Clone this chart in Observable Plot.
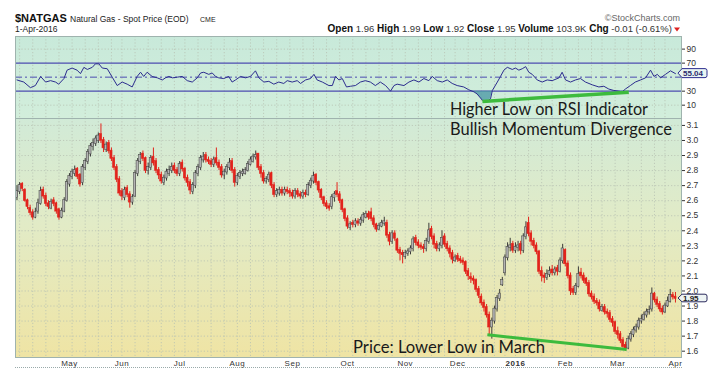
<!DOCTYPE html>
<html><head><meta charset="utf-8">
<script src="https://cdn.jsdelivr.net/npm/d3@7"></script>
<script src="https://cdn.jsdelivr.net/npm/@observablehq/plot@0.6"></script>
<style>
body{margin:0;background:#fff;}
#wrap{position:relative;width:709px;height:381px;overflow:hidden;}
#wrap > *{position:absolute;}
</style></head><body><div id="wrap"></div>
<script>
// ---- data: daily candles, index 0 = 2 Apr 2015 ... 251 = 1 Apr 2016 ----
const open = [2.62,2.66,2.71,2.67,2.60,2.55,2.52,2.49,2.53,2.58,
2.67,2.63,2.58,2.55,2.60,2.58,2.54,2.49,2.53,2.60,
2.71,2.76,2.78,2.81,2.77,2.72,2.82,2.86,2.91,2.96,
2.98,3.00,3.04,3.00,2.94,2.98,2.93,2.88,2.82,2.74,
2.66,2.62,2.68,2.64,2.59,2.63,2.78,2.86,2.91,2.88,
2.80,2.82,2.89,2.86,2.80,2.77,2.72,2.75,2.78,2.80,
2.83,2.80,2.78,2.85,2.81,2.75,2.72,2.66,2.70,2.78,
2.82,2.87,2.90,2.87,2.86,2.84,2.88,2.85,2.82,2.77,
2.79,2.82,2.86,2.80,2.72,2.76,2.78,2.78,2.80,2.84,
2.86,2.89,2.91,2.82,2.78,2.73,2.74,2.78,2.70,2.64,
2.65,2.67,2.65,2.67,2.66,2.65,2.63,2.66,2.64,2.63,
2.65,2.64,2.70,2.73,2.77,2.72,2.67,2.62,2.58,2.56,
2.56,2.62,2.66,2.64,2.60,2.54,2.48,2.42,2.45,2.44,
2.46,2.45,2.47,2.49,2.51,2.52,2.48,2.44,2.41,2.43,
2.45,2.45,2.37,2.33,2.38,2.34,2.27,2.25,2.23,2.25,
2.26,2.28,2.35,2.32,2.30,2.29,2.28,2.33,2.41,2.36,
2.31,2.28,2.30,2.36,2.31,2.28,2.25,2.20,2.23,2.21,
2.20,2.19,2.13,2.09,2.08,2.07,2.01,1.96,1.92,1.89,
1.84,1.76,1.80,1.88,1.95,2.04,2.12,2.22,2.29,2.31,
2.27,2.29,2.31,2.27,2.36,2.45,2.38,2.33,2.30,2.26,
2.13,2.10,2.09,2.11,2.14,2.12,2.15,2.13,2.20,2.27,
2.18,2.10,2.01,1.99,2.03,2.12,2.10,2.08,2.05,1.98,
1.96,1.93,1.92,1.87,1.89,1.86,1.85,1.81,1.79,1.73,
1.71,1.67,1.64,1.62,1.68,1.71,1.74,1.76,1.80,1.81,
1.84,1.86,1.88,1.98,1.94,1.91,1.88,1.86,1.90,1.93,1.97,1.96];
const high = [2.70,2.72,2.72,2.68,2.61,2.57,2.54,2.55,2.61,2.69,
2.69,2.65,2.60,2.61,2.62,2.59,2.55,2.55,2.62,2.74,
2.78,2.81,2.83,2.82,2.78,2.84,2.88,2.94,2.98,3.01,
3.03,3.05,3.11,3.02,2.99,3.00,2.95,2.90,2.84,2.76,
2.68,2.69,2.70,2.66,2.64,2.80,2.88,2.92,2.93,2.89,
2.85,2.90,2.95,2.88,2.82,2.79,2.77,2.81,2.83,2.85,
2.85,2.82,2.86,2.87,2.82,2.77,2.74,2.72,2.80,2.84,
2.90,2.92,2.92,2.89,2.88,2.89,2.95,2.87,2.84,2.81,
2.84,2.88,2.88,2.82,2.78,2.80,2.81,2.82,2.86,2.89,
2.91,2.93,2.91,2.84,2.80,2.76,2.79,2.79,2.72,2.68,
2.69,2.69,2.69,2.69,2.68,2.67,2.68,2.68,2.66,2.67,
2.67,2.72,2.75,2.79,2.78,2.73,2.68,2.63,2.60,2.58,
2.64,2.66,2.72,2.66,2.61,2.55,2.50,2.46,2.47,2.48,
2.48,2.49,2.52,2.53,2.53,2.55,2.50,2.45,2.45,2.47,
2.49,2.47,2.39,2.40,2.40,2.35,2.29,2.27,2.27,2.28,
2.30,2.36,2.37,2.34,2.32,2.31,2.35,2.45,2.43,2.38,
2.33,2.32,2.40,2.38,2.33,2.30,2.27,2.24,2.25,2.23,
2.22,2.20,2.15,2.12,2.10,2.08,2.03,1.98,1.94,1.91,
1.86,1.82,1.90,1.97,2.01,2.09,2.24,2.32,2.35,2.33,
2.32,2.33,2.33,2.38,2.46,2.49,2.40,2.35,2.32,2.27,
2.16,2.12,2.14,2.16,2.17,2.16,2.17,2.22,2.31,2.28,
2.20,2.12,2.03,2.05,2.16,2.15,2.12,2.09,2.07,2.00,
1.98,1.95,1.94,1.91,1.91,1.88,1.87,1.83,1.80,1.76,
1.73,1.69,1.66,1.70,1.73,1.76,1.78,1.82,1.84,1.86,
1.88,1.90,2.02,1.99,1.96,1.93,1.90,1.92,1.96,2.01,1.99,1.99];
const low = [2.60,2.64,2.66,2.59,2.54,2.50,2.47,2.48,2.51,2.57,
2.61,2.56,2.54,2.54,2.56,2.51,2.47,2.48,2.52,2.59,
2.69,2.74,2.76,2.74,2.69,2.70,2.80,2.84,2.89,2.93,
2.96,2.98,2.98,2.92,2.92,2.91,2.86,2.80,2.72,2.63,
2.60,2.60,2.62,2.55,2.57,2.62,2.76,2.84,2.86,2.78,
2.77,2.80,2.83,2.78,2.74,2.71,2.70,2.73,2.76,2.78,
2.78,2.76,2.76,2.79,2.73,2.69,2.64,2.64,2.68,2.76,
2.80,2.85,2.85,2.84,2.82,2.82,2.83,2.80,2.75,2.74,
2.77,2.80,2.78,2.69,2.70,2.74,2.76,2.77,2.79,2.83,
2.85,2.87,2.80,2.75,2.71,2.71,2.72,2.68,2.62,2.62,
2.63,2.63,2.63,2.64,2.62,2.61,2.61,2.62,2.61,2.61,
2.62,2.63,2.68,2.71,2.70,2.65,2.60,2.56,2.54,2.53,
2.54,2.59,2.62,2.58,2.52,2.46,2.41,2.40,2.42,2.42,
2.43,2.43,2.45,2.48,2.47,2.46,2.42,2.39,2.40,2.42,
2.43,2.35,2.30,2.31,2.33,2.25,2.20,2.18,2.21,2.23,
2.24,2.26,2.30,2.28,2.27,2.25,2.26,2.31,2.34,2.28,
2.26,2.26,2.28,2.29,2.26,2.22,2.18,2.19,2.19,2.18,
2.17,2.11,2.07,2.05,2.04,1.99,1.95,1.90,1.86,1.82,
1.71,1.68,1.78,1.86,1.93,2.03,2.10,2.20,2.26,2.25,
2.25,2.26,2.24,2.25,2.34,2.36,2.30,2.28,2.24,2.11,
2.06,2.05,2.07,2.09,2.10,2.10,2.10,2.12,2.18,2.16,
2.08,1.97,1.97,1.97,2.02,2.08,2.05,2.03,1.96,1.94,
1.91,1.90,1.86,1.86,1.84,1.82,1.79,1.76,1.71,1.68,
1.65,1.62,1.60,1.61,1.66,1.69,1.72,1.74,1.78,1.80,
1.82,1.84,1.86,1.92,1.89,1.86,1.84,1.85,1.89,1.92,1.94,1.92];
const close = [2.66,2.70,2.68,2.60,2.56,2.52,2.49,2.52,2.58,2.66,
2.63,2.58,2.56,2.59,2.58,2.53,2.49,2.53,2.60,2.72,
2.76,2.79,2.80,2.76,2.71,2.82,2.86,2.92,2.96,2.98,
3.01,3.03,3.00,2.95,2.97,2.93,2.88,2.82,2.74,2.65,
2.63,2.67,2.64,2.59,2.62,2.78,2.86,2.90,2.88,2.80,
2.82,2.88,2.85,2.80,2.77,2.73,2.75,2.79,2.80,2.82,
2.80,2.78,2.84,2.81,2.75,2.72,2.67,2.70,2.78,2.82,
2.88,2.89,2.87,2.86,2.84,2.87,2.85,2.82,2.77,2.79,
2.82,2.85,2.80,2.72,2.76,2.78,2.79,2.80,2.84,2.87,
2.89,2.90,2.82,2.78,2.73,2.74,2.77,2.70,2.64,2.66,
2.67,2.65,2.67,2.66,2.65,2.63,2.66,2.64,2.63,2.65,
2.64,2.70,2.73,2.76,2.72,2.67,2.62,2.58,2.56,2.55,
2.62,2.64,2.64,2.60,2.54,2.48,2.43,2.44,2.44,2.46,
2.45,2.47,2.50,2.51,2.49,2.48,2.44,2.41,2.43,2.45,
2.46,2.37,2.33,2.38,2.35,2.27,2.25,2.24,2.25,2.26,
2.28,2.34,2.32,2.30,2.29,2.28,2.33,2.40,2.36,2.31,
2.28,2.30,2.35,2.31,2.28,2.25,2.21,2.22,2.21,2.20,
2.19,2.13,2.10,2.08,2.07,2.01,1.97,1.92,1.89,1.84,
1.76,1.80,1.88,1.95,1.98,2.07,2.22,2.29,2.30,2.27,
2.29,2.30,2.27,2.36,2.42,2.38,2.33,2.30,2.26,2.13,
2.10,2.09,2.11,2.13,2.12,2.14,2.13,2.20,2.28,2.18,
2.10,2.00,1.99,2.03,2.11,2.10,2.07,2.05,1.98,1.96,
1.93,1.92,1.88,1.89,1.86,1.85,1.81,1.79,1.73,1.71,
1.67,1.63,1.62,1.68,1.71,1.74,1.76,1.80,1.81,1.84,
1.86,1.87,1.98,1.94,1.91,1.88,1.86,1.90,1.93,1.97,1.96,1.95];

// RSI(14) (trading-day index, value)
const rsiDay = [0,2.6,5.1,7,9,10.9,12.8,14.7,15.9,17.9,
19.1,21,22.9,24.2,25.5,26.8,28.7,29.9,31.2,32.5,
34.4,36.3,38.2,40.1,42,43.9,45.8,47.1,48.3,49.6,
51.5,53.5,55.4,56.6,57.9,59.2,61.1,63,64.9,66.8,
68.7,70,71.2,73.1,74.4,75.7,76.9,78.8,80.7,82,
83.3,85.2,87.1,89,90.9,92.2,94.1,96,97.9,99.8,
101.7,103,104.9,106.8,108.1,110,111.9,113.2,114.4,116.4,
118.9,120.2,121.4,122.7,124,125.6,127.1,129,130.9,132.8,
134.7,136.6,138.5,140.5,142.4,143.7,144.9,147.5,149.4,151.3,
153.2,155.1,157,158.3,160.2,162.1,164,165.9,167.8,170.3,
172.2,174.2,175.4,177.4,179.3,180.5,181.2,183.1,184.3,185.6,
186.9,188.8,190,191.3,192.6,193.9,195.1,196.4,198.3,200.2,
202.1,204,206.6,207.8,209.1,211,212.9,214.8,216.7,219.3,
221.8,223.7,225.6,227.5,229.4,230.7,231.9,233.8,235.7,237.7,
239.6,241.5,242.8,244.1,245.3,247.2,249.1,251];
const rsiVal = [46,43,35,38,51,43,45,43,40,48,
60,63,60,55,64,61,64,69,69,63,
62,50,38,43,40,36,51,57,51,57,
51,49,46,49,51,49,50,51,45,43,
49,56,57,54,56,51,49,48,51,43,
46,51,49,51,59,49,43,44,40,43,
41,45,43,45,41,46,48,54,46,43,
38,38,51,46,48,36,37,38,43,45,
43,38,43,38,30,38,40,38,43,46,
43,48,45,51,45,43,46,41,38,36,
32,29,26,17,16,19,31,43,51,60,
64,61,63,60,62,65,57,54,46,43,
46,45,49,57,46,43,46,48,43,39,
36,37,33,31,30,29,33,38,43,46,
49,60,51,54,49,54,59,55.04];

// header quote (last session, as printed on the chart)
const quoteLabels = ["Open","High","Low","Close","Volume","Chg"];
const quoteValues = ["1.96","1.99","1.92","1.95","103.9K","-0.01 (-0.61%)"];

// axis / grid positions (trading-day indices)
const monthDays = [20,40,62,84,105,126,148,168,190,209,229,251];
const monthLabels = ["May","Jun","Jul","Aug","Sep","Oct","Nov","Dec","2016","Feb","Mar","Apr"];
const weekDays = [1,6,11,16,21,26,31,36,40,45,50,55,60,64,69,74,79,84,89,94,99,104,109,113,118,123,128,133,138,143,148,153,158,163,167,172,177,182,186,190,195,200,204,209,214,219,223,228,233,238,243,247];
const priceTicks = [1.6,1.7,1.8,1.9,2.0,2.1,2.2,2.3,2.4,2.5,2.6,2.7,2.8,2.9,3.0,3.1];
const rsiTicks = [10,30,70,90];
const rsiBands = [30,70];
// annotation trend lines [startDay, startValue, endDay, endValue]
const rsiDivergence = [177.4, 15.3, 233.2, 28.6];
const priceDivergence = [179.3, 1.709, 232.4, 1.611];

// ---- layout ----
const W = 709, ML = 15, MR = 28;
const xDomain = [-0.57, 253.3];
const wrap = d3.select("#wrap");

wrap.append("div").style("left","15px").style("top","36px").style("width","666px").style("height","82px")
  .style("background","linear-gradient(#c8e9da,#d2eedb)");
wrap.append("div").style("left","15px").style("top","118px").style("width","666px").style("height","239px")
  .style("background","linear-gradient(#d1ead7 0%,#e2ebc6 45%,#efe4a4 100%)");

const candles = close.map((c,i)=>({i, o:open[i], h:high[i], l:low[i], c}));
const rsi = rsiDay.map((d,k)=>({i:d, v:rsiVal[k]}));
const upC = "#3a3a3a", dnC = "#e2231c";
const gridStyle = {stroke:"#b7c2b3", strokeDasharray:"1.2,2", strokeWidth:0.8};
const font = "Liberation Sans, Arial, sans-serif";

const rsiPlot = Plot.plot({
  width: W, height: 82, marginLeft: ML, marginRight: MR, marginTop: 0, marginBottom: 0,
  style: {background:"transparent", fontFamily: font, fontSize:"8px", color:"#333", overflow:"visible"},
  x: {domain: xDomain, axis: null},
  y: {domain: [-9, 108], axis: null},
  marks: [
    Plot.ruleX(weekDays, gridStyle),
    Plot.ruleY([10,90], gridStyle),
    Plot.ruleY(rsiBands, {stroke:"#4c4cb0", strokeWidth:1.4}),
    Plot.ruleY([50], {stroke:"#4c4cb0", strokeWidth:1, strokeDasharray:"7,3,2,3"}),
    Plot.areaY(rsi, {x:"i", y1:30, y2:d=>Math.min(d.v,30), fill:"#4e9aa6", fillOpacity:0.8}),
    Plot.line(rsi, {x:"i", y:"v", stroke:"#2c2c8e", strokeWidth:1}),
    Plot.link([rsiDivergence], {x1:d=>d[0], y1:d=>d[1], x2:d=>d[2], y2:d=>d[3], stroke:"#3dbb3d", strokeWidth:3.5}),
    Plot.axisY({anchor:"right", ticks: rsiTicks, tickSize:3, tickPadding:2, fontSize:8.5, label:null}),
    Plot.frame({stroke:"#9fb3ae"})
  ]
});
d3.select(rsiPlot).style("left","0px").style("top","36px");
wrap.node().appendChild(rsiPlot);

const pricePlot = Plot.plot({
  width: W, height: 263, marginLeft: ML, marginRight: MR, marginTop: 0, marginBottom: 24,
  style: {background:"transparent", fontFamily: font, fontSize:"8px", color:"#333", overflow:"visible"},
  color: {type:"identity"},
  x: {domain: xDomain},
  y: {domain: [1.558, 3.146]},
  marks: [
    Plot.ruleX(weekDays, gridStyle),
    Plot.ruleY(priceTicks, gridStyle),
    Plot.ruleX(candles, {x:"i", y1:"l", y2:"h", stroke:d=>d.c>=d.o?upC:dnC, strokeWidth:1}),
    Plot.rect(candles, {x1:d=>d.i-0.42, x2:d=>d.i+0.42, y1:d=>Math.min(d.o,d.c), y2:d=>Math.max(d.o,d.c),
      fill:d=>d.c>=d.o?"#b4b4b4":dnC, stroke:d=>d.c>=d.o?upC:dnC, strokeWidth:0.5, insetTop:-0.4, insetBottom:-0.4}),
    Plot.link([priceDivergence], {x1:d=>d[0], y1:d=>d[1], x2:d=>d[2], y2:d=>d[3], stroke:"#3dbb3d", strokeWidth:3}),
    Plot.axisY({anchor:"right", ticks: priceTicks, tickFormat: d3.format(".1f"), tickSize:3, tickPadding:2, fontSize:8.5, label:null}),
    Plot.axisX({ticks: monthDays, tickFormat: d=>monthLabels[monthDays.indexOf(d)], tickSize:0, tickPadding:3, fontSize:8, label:null}),
    Plot.frame({stroke:"#9fb3ae"})
  ]
});
d3.select(pricePlot).style("left","0px").style("top","118px");
d3.select(pricePlot).selectAll("text").filter(function(){return this.textContent==="2016";}).attr("font-weight","bold");
d3.select(pricePlot).selectAll("g[aria-label='x-axis tick label'] text").attr("letter-spacing","0.5");
wrap.node().appendChild(pricePlot);

wrap.append("div").style("left","15px").style("top","367px").style("width","667px").style("height","0px")
  .style("border-top","1px dotted #9aa");

// ---- overlay texts ----
const ov = wrap.append("svg").attr("width",W).attr("height",381).style("left","0px").style("top","0px");
function t(x,y,str,o={}){
  const e = ov.append("text").attr("x",x).attr("y",y).attr("font-family",o.f||font)
    .attr("font-size",o.s||9).attr("font-weight",o.w||"normal").attr("fill",o.c||"#111")
    .attr("text-anchor",o.a||"start").text(str);
  if (o.len) e.attr("textLength",o.len).attr("lengthAdjust","spacingAndGlyphs");
  return e;
}
t(15,21.5,"$NATGAS",{s:11,w:"bold"});
t(70,21.5,"Natural Gas - Spot Price (EOD)",{s:8.5,c:"#222"});
t(200,21.5,"CME",{s:7,c:"#222"});
t(15,32,"1-Apr-2016",{s:8.5,c:"#222"});
t(680,20.5,"©StockCharts.com",{s:9,c:"#666",a:"end"});

const hdr = ov.append("text").attr("x",672).attr("y",32).attr("text-anchor","end")
  .attr("font-family",font).attr("fill","#111");
quoteLabels.forEach((k,j)=>{
  hdr.append("tspan").attr("font-weight","bold").attr("font-size",10).text((j?"  ":"")+k);
  hdr.append("tspan").attr("font-size",9.5).attr("fill","#333").text(" "+quoteValues[j]);
});
ov.append("path").attr("d","M674,27.5 L680,27.5 L677,31.5 Z").attr("fill","#d22");

const ann = "Lato, 'Open Sans', sans-serif";
t(450,115,"Higher Low on RSI Indicator",{s:17,f:ann,c:"#1a1a1a",len:198});
t(450,135,"Bullish Momentum Divergence",{s:17,f:ann,c:"#1a1a1a",len:222});
t(353,353,"Price: Lower Low in March",{s:17.5,f:ann,c:"#1a1a1a",len:192});

// current value boxes
function valueBox(cy, label, stroke, fill, color, hh){
  ov.append("path").attr("d",`M678,${cy} L682,${cy-hh} L705,${cy-hh} Q707,${cy-hh} 707,${cy-hh+2} L707,${cy+hh-2} Q707,${cy+hh} 705,${cy+hh} L682,${cy+hh} Z`)
    .attr("fill",fill).attr("stroke",stroke).attr("stroke-width",1);
  t(683,cy+2.8,label,{s:8,c:color,w:"bold"});
}
const yR = rsiPlot.scale("y"), yP = pricePlot.scale("y");
const lastRsi = rsiVal[rsiVal.length-1], lastClose = close[close.length-1];
valueBox(36 + yR.apply(lastRsi), lastRsi.toFixed(2), "#2c2c8e", "#e9f5f2", "#2c2c6e", 4.5);
valueBox(118 + yP.apply(lastClose), lastClose.toFixed(2), "#2c2c5e", "#eef4f4", "#222", 3.8);
</script></body></html>
